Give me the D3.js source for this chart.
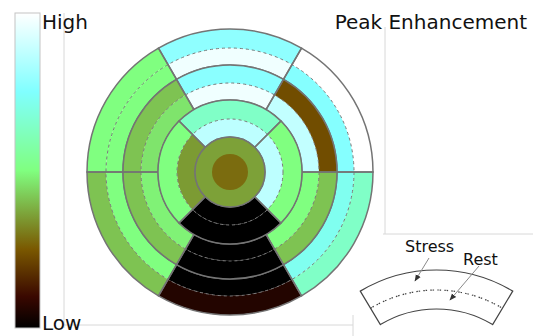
<!DOCTYPE html>
<html>
<head>
<meta charset="utf-8">
<script src="https://cdn.jsdelivr.net/npm/d3@7"></script>
<style>
body { margin: 0; background: #fff; }
text { font-family: "DejaVu Sans", Verdana, sans-serif; fill: #111; }
</style>
</head>
<body>
<div id="chart"></div>
<script>
// segment values (0 = low, 1 = high), AHA order, outer half = stress, inner half = rest
var basalStress  = [0.78, 0.50, 0.41, 0.06, 0.64, 1.00];
var basalRest    = [0.97, 0.50, 0.50, 0.00, 0.72, 0.76];
var midStress    = [0.77, 0.41, 0.41, 0.00, 0.41, 0.23];
var midRest      = [0.97, 0.46, 0.48, 0.00, 0.50, 0.88];
var apicalStress = [0.64, 0.50, 0.00, 0.50];
var apicalRest   = [0.87, 0.35, 0.00, 0.87];
var apexStress   = [0.36];
var apexRest     = [0.28];

var colorStops  = [0, 0.1, 0.25, 0.5, 0.75, 1];
var colorRange  = ["#000000", "#3a0800", "#7a5800", "#80ff80", "#80ffff", "#ffffff"];
var scaleLabels = ["Low", "High"];
var title = "Peak Enhancement";
var legendLabels = ["Stress", "Rest"];

var width = 533,
    height = 336,
    cx = 230,
    cy = 172;

var color = d3.scaleLinear().domain(colorStops).range(colorRange);
var deg = Math.PI / 180;

var svg = d3.select("#chart")
    .append("svg")
    .attr("width", width)
    .attr("height", height);

// faint panel frame lines
var frame = [[64, 13, 64, 328], [385, 27, 385, 234], [383, 234, 533, 234],
             [64, 325, 353, 325], [353, 315, 353, 336]];
svg.selectAll(".frame")
    .data(frame)
    .enter()
    .append("line")
    .attr("x1", d => d[0]).attr("y1", d => d[1])
    .attr("x2", d => d[2]).attr("y2", d => d[3])
    .attr("stroke", "#d8d8d8")
    .attr("stroke-width", 1);

// colour bar
var grad = svg.append("defs").append("linearGradient")
    .attr("id", "bar")
    .attr("x1", 0).attr("y1", 1).attr("x2", 0).attr("y2", 0);
grad.selectAll("stop")
    .data(colorStops)
    .enter()
    .append("stop")
    .attr("offset", d => d * 100 + "%")
    .attr("stop-color", d => color(d));

var barScale = d3.scaleLinear().domain([0, 1]).range([328, 13]);
svg.append("rect")
    .attr("x", 15)
    .attr("y", barScale(1))
    .attr("width", 25)
    .attr("height", barScale(0) - barScale(1))
    .attr("fill", "url(#bar)")
    .attr("stroke", "#c4c4c4")
    .attr("stroke-width", 1);

svg.append("text").attr("x", 42).attr("y", 29).style("font-size", "20px").text(scaleLabels[1]);
svg.append("text").attr("x", 42).attr("y", 330).style("font-size", "20px").text(scaleLabels[0]);
svg.append("text").attr("x", 527).attr("y", 29).attr("text-anchor", "end")
    .style("font-size", "20px").text(title);

// bullseye
var g = svg.append("g").attr("transform", "translate(" + cx + "," + cy + ")");

var rings = [
    { stress: basalStress,  rest: basalRest,  r0: 107, rm: 124, r1: 143, offset: 30, step: 60 },
    { stress: midStress,    rest: midRest,    r0: 72,  rm: 89,  r1: 107, offset: 30, step: 60 },
    { stress: apicalStress, rest: apicalRest, r0: 35,  rm: 53,  r1: 72,  offset: 45, step: 90 }
];

var arc = d3.arc();

rings.forEach(function(ring) {
    var segs = ring.stress.map(function(v, k) {
        return {
            stress: v,
            rest: ring.rest[k],
            a0: (ring.offset - ring.step * (k + 1)) * deg,
            a1: (ring.offset - ring.step * k) * deg
        };
    });

    // rest = inner half
    g.selectAll(null).data(segs).enter().append("path")
        .attr("d", d => arc({ innerRadius: ring.r0, outerRadius: ring.rm, startAngle: d.a0, endAngle: d.a1 }))
        .attr("fill", d => color(d.rest));
    // stress = outer half
    g.selectAll(null).data(segs).enter().append("path")
        .attr("d", d => arc({ innerRadius: ring.rm, outerRadius: ring.r1, startAngle: d.a0, endAngle: d.a1 }))
        .attr("fill", d => color(d.stress));

    // dashed split between stress and rest
    g.append("circle")
        .attr("r", ring.rm)
        .attr("fill", "none")
        .attr("stroke", "#7a7a7a")
        .attr("stroke-width", 1)
        .attr("stroke-dasharray", "3,3");

    // segment outlines
    g.selectAll(null).data(segs).enter().append("path")
        .attr("d", d => arc({ innerRadius: ring.r0, outerRadius: ring.r1, startAngle: d.a0, endAngle: d.a1 }))
        .attr("fill", "none")
        .attr("stroke", "#747474")
        .attr("stroke-width", 1.5);
});

// apex
g.append("circle").attr("r", 35).attr("fill", color(apexStress[0]))
    .attr("stroke", "#747474").attr("stroke-width", 1.5);
g.append("circle").attr("r", 18).attr("fill", color(apexRest[0]));

// legend: one segment with stress / rest halves
var lg = svg.append("g").attr("transform", "translate(436.5,418)");
var la = 31 * deg;
lg.append("path")
    .attr("d", arc({ innerRadius: 109, outerRadius: 148, startAngle: -la, endAngle: la }))
    .attr("fill", "none")
    .attr("stroke", "#444")
    .attr("stroke-width", 1.2);
lg.append("path")
    .attr("d", d3.arc()({ innerRadius: 128, outerRadius: 128, startAngle: -la, endAngle: la }))
    .attr("fill", "none")
    .attr("stroke", "#444")
    .attr("stroke-width", 1.2)
    .attr("stroke-dasharray", "1.5,5.5");

svg.append("defs").append("marker")
    .attr("id", "head")
    .attr("viewBox", "0 0 10 10")
    .attr("refX", 9).attr("refY", 5)
    .attr("markerWidth", 7).attr("markerHeight", 7)
    .attr("orient", "auto")
    .append("path")
    .attr("d", "M0,1L10,5L0,9Z")
    .attr("fill", "#333");

var arrows = [[429, 258, 415, 281], [479, 266, 450, 300]];
svg.selectAll(".arrow")
    .data(arrows)
    .enter()
    .append("line")
    .attr("x1", d => d[0]).attr("y1", d => d[1])
    .attr("x2", d => d[2]).attr("y2", d => d[3])
    .attr("stroke", "#8a8a8a")
    .attr("stroke-width", 1)
    .attr("marker-end", "url(#head)");

svg.append("text").attr("x", 405).attr("y", 252).style("font-size", "16px").text(legendLabels[0]);
svg.append("text").attr("x", 463).attr("y", 265).style("font-size", "16px").text(legendLabels[1]);
</script>
</body>
</html>
